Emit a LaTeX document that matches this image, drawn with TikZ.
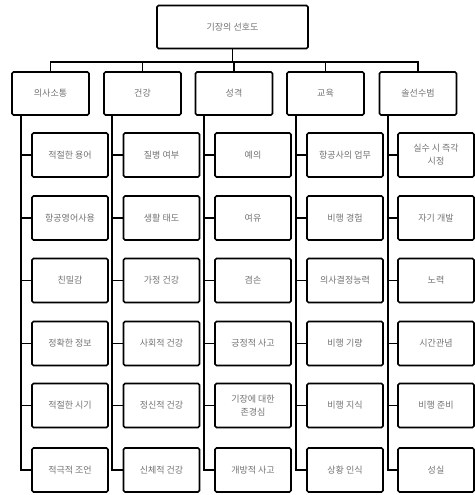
\documentclass[tikz,border=0pt]{standalone}
\usepackage{fontspec}
\setmainfont{Noto Sans CJK KR}
\begin{document}
\begin{tikzpicture}[x=1pt,y=-1pt,
  box/.style={draw=black,line width=1.7pt,rounded corners=1.5pt,fill=white,
    text=black!55,font=\fontsize{9}{13}\selectfont,align=center,inner sep=1pt},
  head/.style={box,minimum width=77pt,minimum height=43pt},
  item/.style={box,minimum width=76pt,minimum height=44pt},
  link/.style={draw=black,line width=1.6pt}]
\useasboundingbox (0,0) rectangle (474,495);
\node[box,minimum width=151pt,minimum height=43pt] (t) at (232.5,27) {기장의 선호도};
\node[head] (c1) at (50.5,93.5) {의사소통};
\node[head] (c2) at (142.5,93.5) {건강};
\node[head] (c3) at (234,93.5) {성격};
\node[head] (c4) at (325.5,93.5) {교육};
\node[head] (c5) at (418,93.5) {솔선수범};
\coordinate (bus) at (0,62);
\draw[link] (c1.north) |- (bus -| c5.north) -- (c5.north);
\foreach \c in {c2,c3,c4} \draw[link] (\c.north) -- (\c.north |- bus);
\draw[link] (t.south) -- (t.south |- bus);
% spine positions
\foreach \col/\s in {1/21,2/112,3/204,4/296,5/388}{
  \coordinate (s\col) at (\s,0);
}
\node[item] (n11) at (70,155) {적절한 용어};
\node[item] (n12) at (70,218) {항공영어사용};
\node[item] (n13) at (70,280.5) {친밀감};
\node[item] (n14) at (70,343.5) {정확한 정보};
\node[item] (n15) at (70,405.5) {적절한 시기};
\node[item] (n16) at (70,470) {적극적 조언};
\node[item] (n21) at (161.5,155) {질병 여부};
\node[item] (n22) at (161.5,218) {생활 태도};
\node[item] (n23) at (161.5,280.5) {가정 건강};
\node[item] (n24) at (161.5,343.5) {사회적 건강};
\node[item] (n25) at (161.5,405.5) {정신적 건강};
\node[item] (n26) at (161.5,470) {신체적 건강};
\node[item] (n31) at (253,155) {예의};
\node[item] (n32) at (253,218) {여유};
\node[item] (n33) at (253,280.5) {겸손};
\node[item] (n34) at (253,343.5) {긍정적 사고};
\node[item] (n35) at (253,405.5) {기장에 대한\\존경심};
\node[item] (n36) at (253,470) {개방적 사고};
\node[item] (n41) at (345,155) {항공사의 업무};
\node[item] (n42) at (345,218) {비행 경험};
\node[item] (n43) at (345,280.5) {의사결정능력};
\node[item] (n44) at (345,343.5) {비행 기량};
\node[item] (n45) at (345,405.5) {비행 지식};
\node[item] (n46) at (345,470) {상황 인식};
\node[item] (n51) at (436,155) {실수 시 즉각\\시정};
\node[item] (n52) at (436,218) {자기 개발};
\node[item] (n53) at (436,280.5) {노력};
\node[item] (n54) at (436,343.5) {시간관념};
\node[item] (n55) at (436,405.5) {비행 준비};
\node[item] (n56) at (436,470) {성실};
\foreach \col in {1,...,5}{
  \foreach \r in {1,...,6}{
    \draw[link] (c\col.south -| s\col) |- (n\col\r.west);
  }
}
\end{tikzpicture}
\end{document}
